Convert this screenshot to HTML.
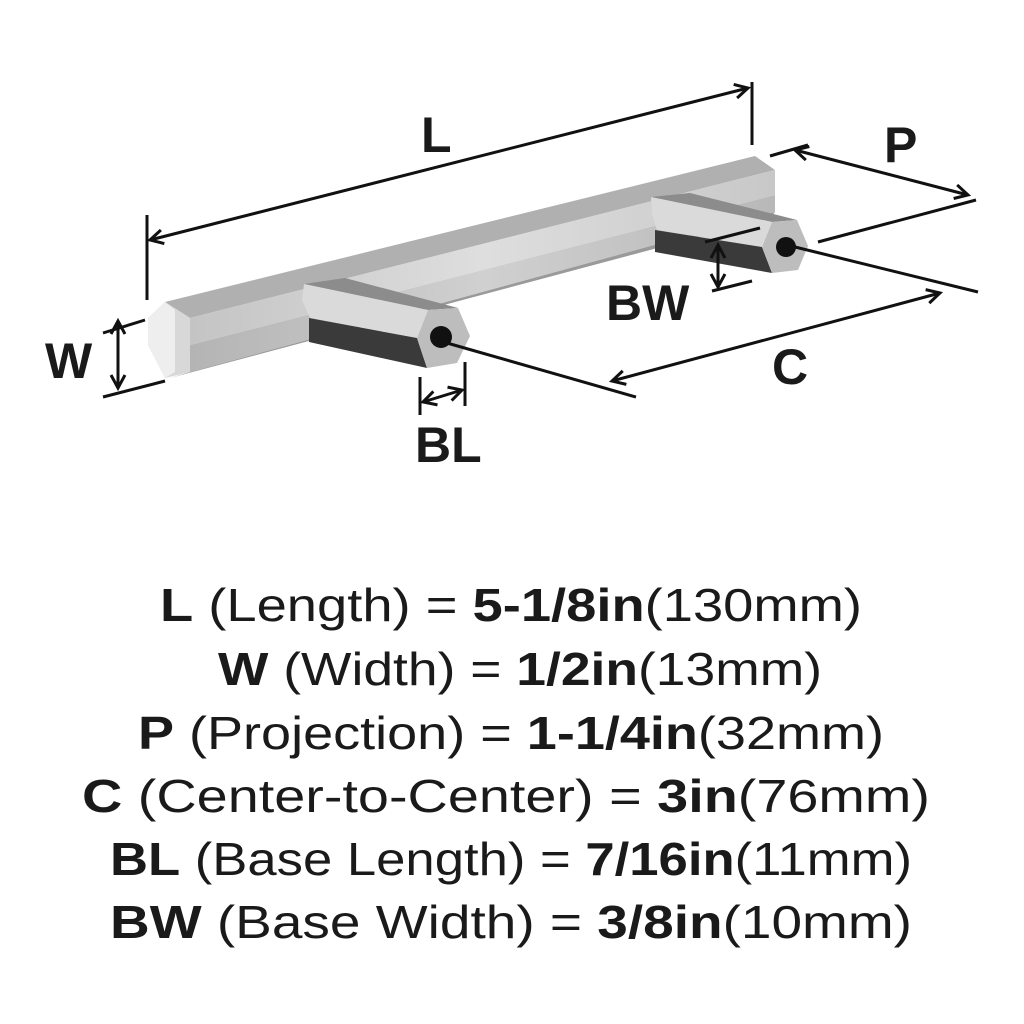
<!DOCTYPE html>
<html><head><meta charset="utf-8"><style>
html,body{margin:0;padding:0;background:#fff;width:1024px;height:1024px;overflow:hidden}
svg{display:block}
text{font-family:"Liberation Sans",sans-serif;fill:#1a1a1a}
</style></head><body>
<svg width="1024" height="1024" viewBox="0 0 1024 1024" xmlns="http://www.w3.org/2000/svg">
<defs>
<linearGradient id="g1" x1="0" y1="0" x2="1" y2="0"><stop offset="0" stop-color="#c4c4c4"/><stop offset="0.5" stop-color="#dedede"/><stop offset="1" stop-color="#c8c8c8"/></linearGradient>
<linearGradient id="g2" x1="0" y1="0" x2="1" y2="0"><stop offset="0" stop-color="#b4b4b4"/><stop offset="0.5" stop-color="#d0d0d0"/><stop offset="1" stop-color="#b8b8b8"/></linearGradient>
<marker id="ar" markerWidth="18" markerHeight="18" refX="15" refY="9" orient="auto-start-reverse" markerUnits="userSpaceOnUse"><path d="M2,2 L15,9 L2,16" fill="none" stroke="#111" stroke-width="3"/></marker>
</defs>
<polygon points="165,302 755,156 775,170 190,318" fill="#b0b0b0"/>
<polygon points="190,318 775,170 775,195 190,345" fill="url(#g1)"/>
<polygon points="190,345 775,195 775,212 190,372" fill="url(#g2)"/>
<polygon points="190,372 775,212 770,218 170,378" fill="#9a9a9a"/>
<polygon points="165,302 190,318 190,372 165,378 148,345 148,318" fill="#d8d8d8"/>
<polygon points="165,302 148,318 148,345 165,378 175,372 175,310" fill="#eeeeee"/>
<polygon points="651,197 690,193 797,220 772,222" fill="#8c8c8c"/>
<polygon points="651,197 772,222 762,247 657,230 652,215" fill="#dadada"/>
<polygon points="655,230 762,247 772,273 655,252" fill="#3a3a3a"/>
<polygon points="772,222 797,220 808,246 798,270 772,273 762,247" fill="#bdbdbd"/>
<circle cx="786" cy="247" r="10" fill="#111"/>
<polygon points="304,284 345,278 458,308 428,310" fill="#8c8c8c"/>
<polygon points="304,284 428,310 417,338 310,318 302,300" fill="#dadada"/>
<polygon points="309,318 417,338 427,368 309,342" fill="#3a3a3a"/>
<polygon points="428,310 458,308 470,336 457,363 427,368 417,338" fill="#bdbdbd"/>
<circle cx="441" cy="337" r="11" fill="#111"/>
<g stroke="#111" stroke-width="3" fill="none">
<line x1="147" y1="215" x2="147" y2="300"/>
<line x1="752" y1="82" x2="752" y2="145"/>
<line x1="150" y1="240" x2="748" y2="88" marker-start="url(#ar)" marker-end="url(#ar)"/>
<line x1="770" y1="156" x2="808" y2="145"/>
<line x1="818" y1="242" x2="976" y2="200"/>
<line x1="795" y1="150" x2="968" y2="195" marker-start="url(#ar)" marker-end="url(#ar)"/>
<line x1="103" y1="333" x2="145" y2="320"/>
<line x1="103" y1="397" x2="165" y2="381"/>
<line x1="118" y1="321" x2="118" y2="388" marker-start="url(#ar)" marker-end="url(#ar)"/>
<line x1="420" y1="377" x2="420" y2="415"/>
<line x1="465" y1="362" x2="465" y2="406"/>
<line x1="423" y1="402" x2="462" y2="390" marker-start="url(#ar)" marker-end="url(#ar)"/>
<line x1="705" y1="242" x2="760" y2="228"/>
<line x1="712" y1="291" x2="752" y2="281"/>
<line x1="718" y1="245" x2="718" y2="287" marker-start="url(#ar)" marker-end="url(#ar)"/>
<line x1="447" y1="343" x2="636" y2="397"/>
<line x1="795" y1="247" x2="978" y2="292"/>
<line x1="612" y1="381" x2="940" y2="293" marker-start="url(#ar)" marker-end="url(#ar)"/>
</g>
<g font-size="50" font-weight="bold">
<text x="421" y="152">L</text>
<text x="884" y="162">P</text>
<text x="45" y="378">W</text>
<text x="415" y="462">BL</text>
<text x="606" y="320">BW</text>
<text x="772" y="384">C</text>
</g>
<g font-size="46">
<text x="160" y="621" textLength="702" lengthAdjust="spacingAndGlyphs"><tspan font-weight="bold">L</tspan> (Length) = <tspan font-weight="bold">5-1/8in</tspan>(130mm)</text>
<text x="218" y="685" textLength="604" lengthAdjust="spacingAndGlyphs"><tspan font-weight="bold">W</tspan> (Width) = <tspan font-weight="bold">1/2in</tspan>(13mm)</text>
<text x="138" y="749" textLength="746" lengthAdjust="spacingAndGlyphs"><tspan font-weight="bold">P</tspan> (Projection) = <tspan font-weight="bold">1-1/4in</tspan>(32mm)</text>
<text x="82" y="812" textLength="848" lengthAdjust="spacingAndGlyphs"><tspan font-weight="bold">C</tspan> (Center-to-Center) = <tspan font-weight="bold">3in</tspan>(76mm)</text>
<text x="110" y="875" textLength="802" lengthAdjust="spacingAndGlyphs"><tspan font-weight="bold">BL</tspan> (Base Length) = <tspan font-weight="bold">7/16in</tspan>(11mm)</text>
<text x="110" y="938" textLength="802" lengthAdjust="spacingAndGlyphs"><tspan font-weight="bold">BW</tspan> (Base Width) = <tspan font-weight="bold">3/8in</tspan>(10mm)</text>
</g>
</svg>
</body></html>
